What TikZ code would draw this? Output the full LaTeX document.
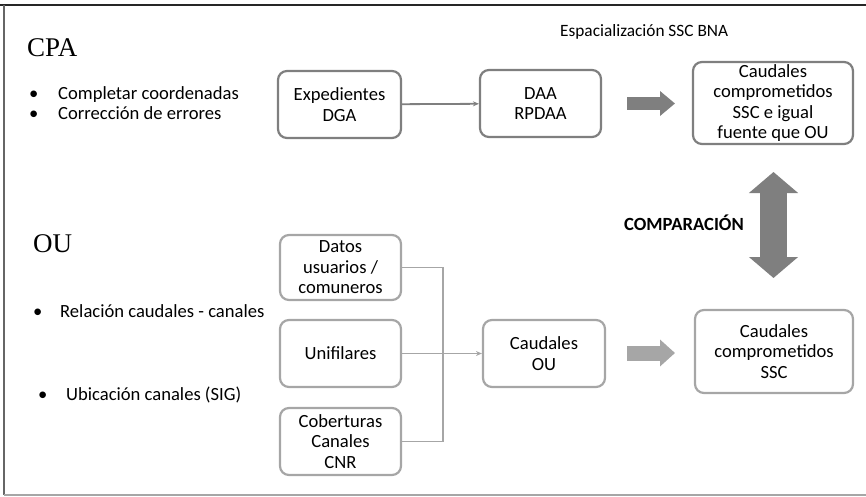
\documentclass[tikz,border=0pt]{standalone}
\usepackage{fontspec}
\setmainfont{Carlito}
\newfontfamily\titlefont{Liberation Serif}
\usetikzlibrary{arrows.meta}
\definecolor{boxgray}{HTML}{7F7F7F}
\definecolor{lowgray}{HTML}{A6A6A6}
\newcommand\TextoCaja{\fontsize{18.6}{20.5}\selectfont}

\begin{document}
\begin{tikzpicture}[x=1pt, y=-1pt,
	caja/.style={draw=boxgray, line width=2.2pt, rounded corners=9pt, align=center, inner sep=1pt, font=\TextoCaja},
	cajaclara/.style={caja, draw=lowgray},
	texto/.style={anchor=base west, inner sep=0pt, font=\TextoCaja},
	titulo/.style={anchor=base west, inner sep=0pt, font=\titlefont\fontsize{27}{30}\selectfont},
	enlace/.style={draw=lowgray, line width=1.8pt, -{Stealth[length=6pt, width=5pt]}},
	flecha/.style={line width=13pt, -{Triangle[length=15pt, width=24pt]}}]
	\useasboundingbox (0,0) rectangle (866,497);
	% frame
	\draw[line width=2pt, black!85] (0,5) -- (866,5);
	\draw[line width=2pt, gray!80!black] (3.5,5) -- (3.5,495);
	\draw[line width=1.5pt, lowgray] (3.5,495) -- (866,495);

	% CPA
	\node[titulo] (cpa) at (27,57) {CPA};
	\foreach \yy/\txt [count=\i] in {100/Completar coordenadas, 120/Corrección de errores}
	{
		\node[texto] (cpabul\i) at (29,\yy) {\textbullet};
		\node[texto] (cpatxt\i) at (58,\yy) {\txt};
	}
	\node[texto, font=\fontsize{17.3}{20}\selectfont] (espacial) at (560,37) {Espacialización SSC BNA};
	\node[caja, minimum width=123pt, minimum height=67pt] (exped) at (339.5,104.5) {Expedientes\\DGA};
	\node[caja, minimum width=121pt, minimum height=67pt] (daa) at (540.5,103.5) {DAA\\RPDAA};
	\node[caja, minimum width=160pt, minimum height=82pt] (comptop) at (773,103) {Caudales\\comprometidos\\SSC e igual\\fuente que OU};
	\draw[enlace, draw=boxgray] (exped) -- (daa);
	\coordinate (f1a) at (627,103.5);
	\coordinate (f1b) at (675,103.5);
	\draw[flecha, draw=boxgray] (f1a) -- (f1b);

	% comparacion
	\coordinate (dua) at (773.5,172);
	\coordinate (dub) at (773.5,278);
	\draw[draw=boxgray, line width=27pt, {Triangle[length=21pt, width=48pt]}-{Triangle[length=21pt, width=48pt]}] (dua) -- (dub);
	\node[texto, font=\bfseries\TextoCaja, anchor=base] (compara) at (684,230) {COMPARACIÓN};

	% OU
	\node[titulo] (ou) at (33,252) {OU};
	\foreach \xb/\yy [count=\i] in {33/317, 38/400}
	{
		\node[texto] (oubul\i) at (\xb,\yy) {\textbullet};
	}
	\node[texto] (outxt1) at (60,317) {Relación caudales - canales};
	\node[texto] (outxt2) at (66,400) {Ubicación canales (SIG)};
	\node[cajaclara, minimum width=121pt, minimum height=65pt] (datos) at (340.5,267.5) {Datos\\usuarios /\\comuneros};
	\node[cajaclara, minimum width=121pt, minimum height=67pt] (unif) at (340.5,353.5) {Unifilares};
	\node[cajaclara, minimum width=121pt, minimum height=67pt] (cober) at (340.5,441.5) {Coberturas\\Canales\\CNR};
	\node[cajaclara, minimum width=122pt, minimum height=67pt] (caudou) at (544,353.5) {Caudales\\OU};
	\node[cajaclara, minimum width=158pt, minimum height=83pt] (compbot) at (774,351.5) {Caudales\\comprometidos\\SSC};
	\coordinate (barra) at (443,0);
	\draw[draw=lowgray, line width=1.8pt] (datos.east) -- (datos.east -| barra) -- (cober.east -| barra) -- (cober.east);
	\draw[enlace] (unif) -- (caudou);
	\coordinate (f2a) at (627,353);
	\coordinate (f2b) at (675,353);
	\draw[flecha, draw=lowgray, line width=15pt, -{Triangle[length=15pt, width=26pt]}] (f2a) -- (f2b);
\end{tikzpicture}
\end{document}
